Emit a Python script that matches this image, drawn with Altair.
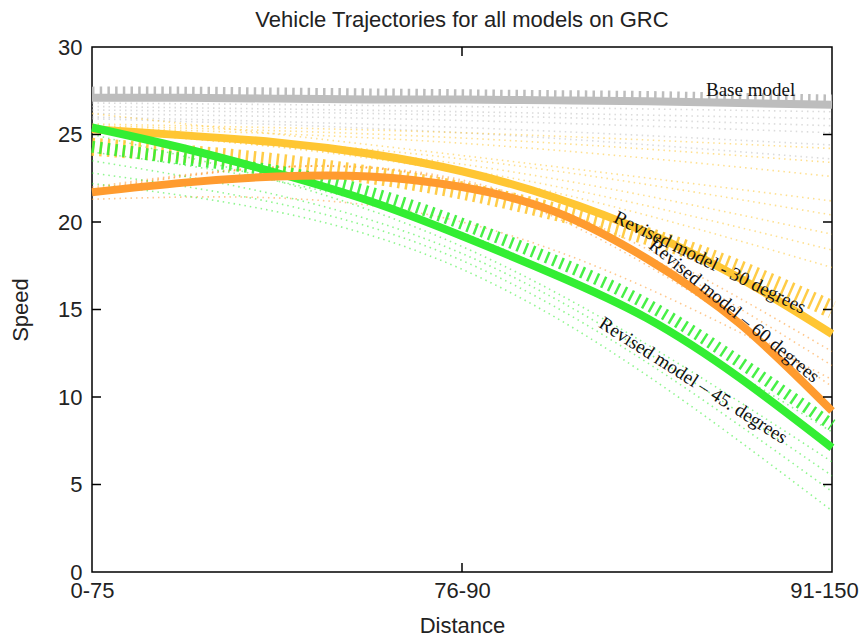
import altair as alt
import pandas as pd

# ---------------- data ----------------
X9 = [0, 0.25, 0.5, 0.75, 1.0, 1.25, 1.5, 1.75, 2.0]
x_labels = ["0-75", "76-90", "91-150"]

base_main = [27.1, 27.1, 27.05, 27.0, 27.0, 26.95, 26.9, 26.8, 26.7]
base_hatch = [27.45, 27.45, 27.4, 27.35, 27.3, 27.25, 27.2, 27.1, 27.0]
deg30_main = [25.3, 24.95, 24.55, 23.9, 22.9, 21.4, 19.4, 16.8, 13.6]
deg30_hatch = [24.3, 23.9, 23.4, 22.7, 21.8, 20.6, 19.2, 17.3, 15.0]
deg60_main = [21.7, 22.25, 22.6, 22.6, 22.0, 20.6, 17.9, 14.2, 9.2]
deg45_main = [25.4, 24.2, 22.8, 21.2, 19.2, 17.0, 14.5, 11.1, 7.1]
deg45_hatch = [24.3, 23.6, 22.9, 21.7, 19.9, 17.8, 15.3, 12.0, 8.4]

FAN_X = [0, 1, 2]
base_fans = [[27.0, 26.9, 26.6], [26.8, 26.6, 26.3], [26.6, 26.3, 25.9],
             [26.4, 26.1, 25.5], [26.2, 25.8, 25.1], [26.0, 25.4, 24.4],
             [25.9, 25.1, 23.6]]
deg30_fans = [[25.6, 25.1, 24.2], [25.5, 24.8, 23.4], [25.4, 24.5, 22.6],
              [26.2, 23.8, 21.2], [25.3, 23.6, 20.4], [25.3, 23.3, 19.3],
              [25.2, 23.0, 18.4], [25.2, 22.8, 17.4]]
deg60_fans = [[21.3, 20.0, 11.0], [22.0, 22.4, 12.6], [21.9, 22.3, 11.8],
              [21.8, 22.2, 10.6]]
deg45_fans = [[25.0, 18.6, 6.3], [23.5, 18.2, 5.5], [22.8, 17.8, 4.6],
              [22.2, 17.3, 3.5], [24.0, 19.4, 8.0]]

models = ["base", "deg30", "deg60", "deg45"]
colors = ["#bdbdbd", "#ffc633", "#ff9b2f", "#33ee33"]

label_text = ["Base model", "Revised model - 30 degrees",
              "Revised model \u2013 60 degrees", "Revised model \u2013 45. degrees"]
label_x = [1.78, 1.67, 1.736, 1.625]
label_y = [27.55, 17.7, 14.93, 10.95]
label_angle = [0, 26, 39.5, 32.5]

y_tick_vals = [5, 10, 15, 20, 25]
x_tick_vals = [1]

# ---------------- build tables ----------------
def rows(model, xs, ys, line_id):
    return [{"x": a, "y": b, "model": model, "line": line_id} for a, b in zip(xs, ys)]

fan_rows = []
for m, fans in zip(models, [base_fans, deg30_fans, deg60_fans, deg45_fans]):
    for i, f in enumerate(fans):
        fan_rows += rows(m, FAN_X, f, f"{m}_fan{i}")
fan_df = pd.DataFrame(fan_rows)

hatch_df = pd.DataFrame(rows("base", X9, base_hatch, "bh"))
hatch30_df = pd.DataFrame(rows("deg30", X9, deg30_hatch, "h30"))
hatch45_df = pd.DataFrame(rows("deg45", X9, deg45_hatch, "h45"))

main = {
    "base": pd.DataFrame(rows("base", X9, base_main, "base")),
    "deg30": pd.DataFrame(rows("deg30", X9, deg30_main, "deg30")),
    "deg45": pd.DataFrame(rows("deg45", X9, deg45_main, "deg45")),
    "deg60": pd.DataFrame(rows("deg60", X9, deg60_main, "deg60")),
}

text_df = pd.DataFrame({"x": label_x, "y": label_y, "text": label_text, "angle": label_angle})

# ---------------- encodings ----------------
label_expr = " : ".join(
    [f"datum.value == {i} ? '{t}'" for i, t in enumerate(x_labels[:-1])]
) + f" : '{x_labels[-1]}'"

FONT = "Liberation Sans"
FS = 22
xenc = alt.X("x:Q", scale=alt.Scale(domain=[0, 2], nice=False, zero=False),
             axis=alt.Axis(values=[0, 1, 2], labelExpr=label_expr, title="Distance",
                           grid=False, domain=False, ticks=False, labelFlush=False,
                           labelOffset={"condition": {"test": "datum.value == 2", "value": -8},
                                        "value": 0},
                           labelPadding=8, labelFontSize=FS, labelFont=FONT, labelColor="#222",
                           titleFontSize=FS, titleFont=FONT, titleFontWeight="normal",
                           titleColor="#222", titleX=370, titleY=53, titleBaseline="middle"))
yenc = alt.Y("y:Q", scale=alt.Scale(domain=[0, 30], nice=False),
             axis=alt.Axis(values=[0, 5, 10, 15, 20, 25, 30], title="Speed",
                           grid=False, domain=False, ticks=False,
                           labelPadding=10, labelFontSize=FS, labelFont=FONT, labelColor="#222",
                           titleFontSize=FS, titleFont=FONT, titleFontWeight="normal",
                           titleColor="#222", titleX=-72, titleY=262.5,
                           titleBaseline="middle", titleAlign="center", titleAngle=-90))
cenc = alt.Color("model:N", scale=alt.Scale(domain=models, range=colors), legend=None)


def lines(df, width, dash=None, opacity=1.0):
    kw = dict(strokeWidth=width, opacity=opacity, interpolate="natural", strokeCap="butt")
    if dash is not None:
        kw["strokeDash"] = dash
    return alt.Chart(df).mark_line(**kw).encode(x=xenc, y=yenc, color=cenc, detail="line:N")


fans = lines(fan_df, 1.6, [1.5, 4], 0.55)
hatch_base = lines(hatch_df, 10, [2.5, 5.2], 1.0)
hatch30 = lines(hatch30_df, 18, [2.5, 5.2], 0.9)
hatch45 = lines(hatch45_df, 12, [2.5, 5.2], 0.9)
main_layers = [lines(main[m], 8) for m in ["base", "deg30", "deg45", "deg60"]]

texts = alt.Chart(text_df).mark_text(font="Liberation Serif", fontSize=19, color="#111",
                                     align="center", baseline="middle").encode(
    x=xenc, y=yenc, text="text:N", angle=alt.Angle("angle:Q", scale=None))

ytick_df = pd.DataFrame({"y": y_tick_vals})
xtick_df = pd.DataFrame({"x": x_tick_vals})
tick_l = alt.Chart(ytick_df).mark_rule(color="black", strokeWidth=1.5).encode(
    y=yenc, x=alt.value(0), x2=alt.value(9))
tick_r = alt.Chart(ytick_df).mark_rule(color="black", strokeWidth=1.5).encode(
    y=yenc, x=alt.value(731), x2=alt.value(740))
tick_b = alt.Chart(xtick_df).mark_rule(color="black", strokeWidth=1.5).encode(
    x=xenc, y=alt.value(516), y2=alt.value(525))
tick_t = alt.Chart(xtick_df).mark_rule(color="black", strokeWidth=1.5).encode(
    x=xenc, y=alt.value(0), y2=alt.value(9))

chart = alt.layer(
    fans, hatch_base, hatch30, hatch45, *main_layers, texts, tick_l, tick_r, tick_b, tick_t
).properties(
    width=740, height=525,
    autosize="none",
    padding={"left": 84, "top": 39, "right": 27, "bottom": 64},
    title=alt.TitleParams("Vehicle Trajectories for all models on GRC", fontSize=FS, font=FONT,
                          fontWeight="normal", color="#222", offset=4, anchor="middle"),
).configure_view(stroke="black", strokeWidth=1.5)

chart.save("out.html", embed_options={"renderer": "svg", "actions": False})
